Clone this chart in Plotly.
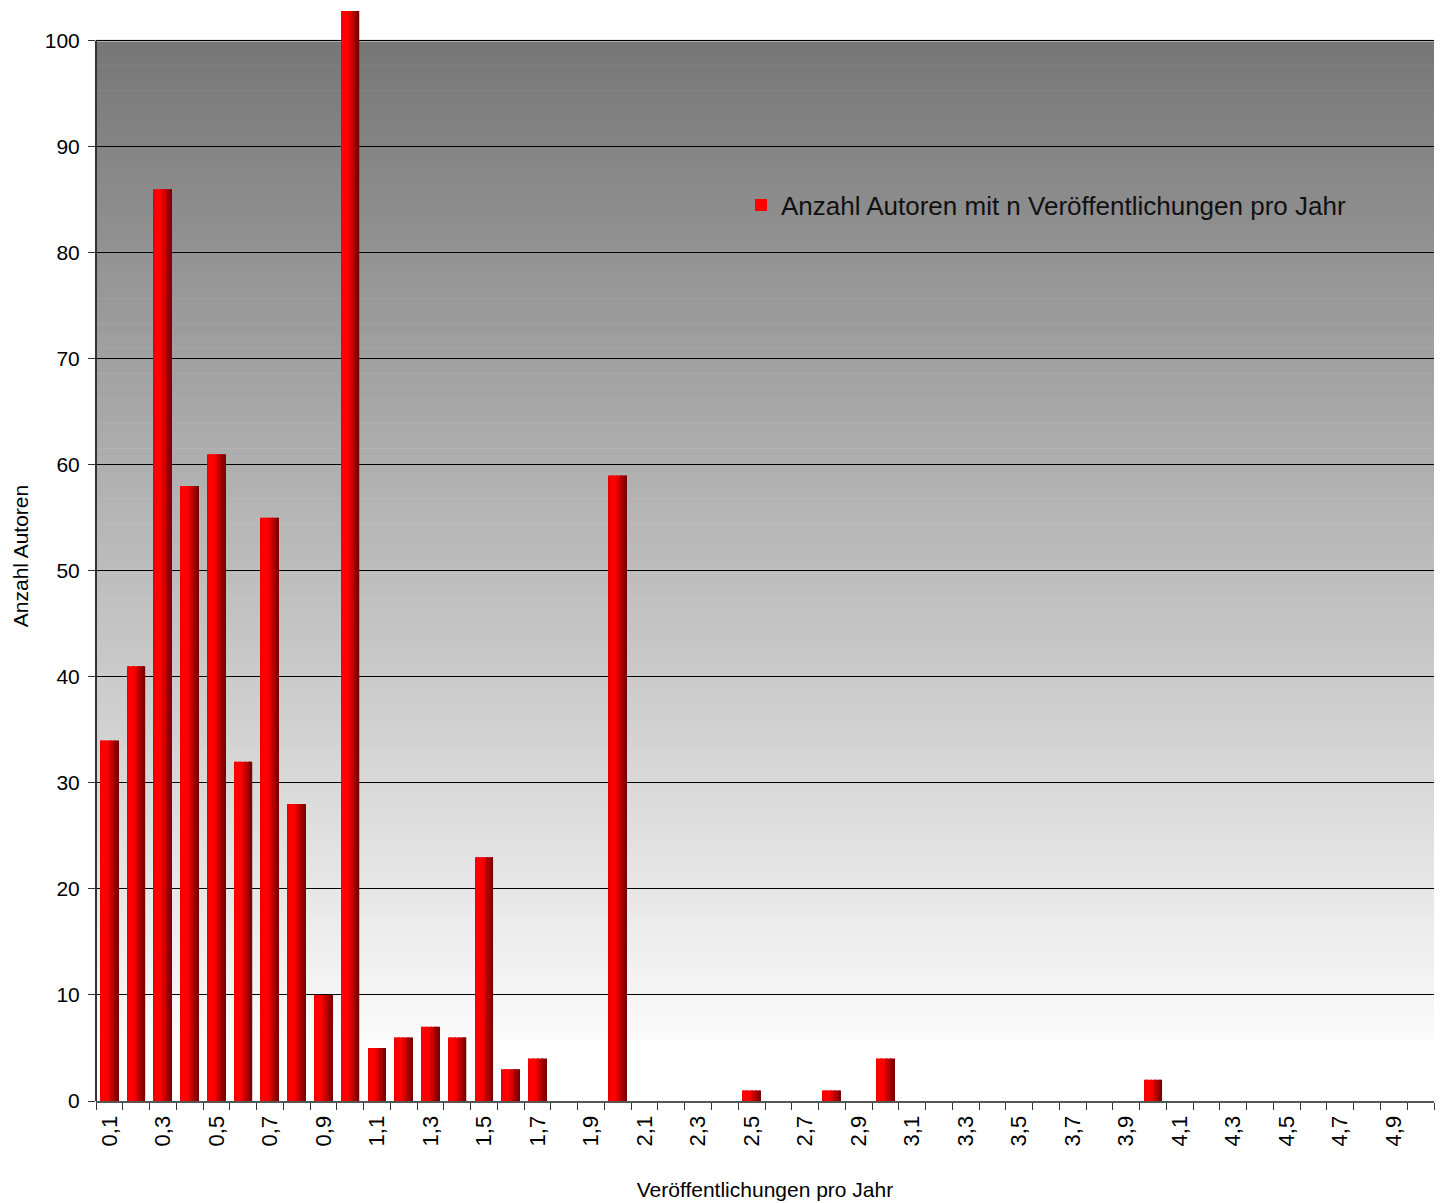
import plotly.graph_objects as go

# ---- data ----
categories = [f"{i/10:.1f}".replace(".", ",") for i in range(1, 51)]
values = [34, 41, 86, 58, 61, 32, 55, 28, 10, 103,
          5, 6, 7, 6, 23, 3, 4, 0, 0, 59,
          0, 0, 0, 0, 1, 0, 0, 1, 0, 4,
          0, 0, 0, 0, 0, 0, 0, 0, 0, 2,
          0, 0, 0, 0, 0, 0, 0, 0, 0, 0]
tick_text = [c if i % 2 == 0 else "" for i, c in enumerate(categories)]
series_name = "Anzahl Autoren mit n Veröffentlichungen pro Jahr"
y_ticks = list(range(0, 101, 10))

FONT = "Liberation Sans, Arial, sans-serif"

fig = go.Figure()

# bars drawn as vertical strips to imitate a horizontal red gradient
n_strips = 14
bar_width = 0.67
strip_w = bar_width / n_strips
def strip_color(t):
    # t: 0 (left) .. 1 (right)
    if t < 0.08:
        r = 235
    elif t < 0.4:
        r = 255
    else:
        r = int(255 - (t - 0.4) / 0.6 * (255 - 115))
    return f"rgb({r},0,0)"

for k in range(n_strips):
    t = (k + 0.5) / n_strips
    fig.add_trace(go.Bar(
        x=categories, y=values,
        width=strip_w + 0.003,
        offset=-bar_width / 2 + k * strip_w,
        marker=dict(color=strip_color(t), line=dict(width=0)),
        name=series_name,
        showlegend=(k == 4),
        hoverinfo="skip" if k != 4 else None,
    ))

# background gradient (grey at top -> white near bottom)
shapes = []
top_c, bot_c = 0x77, 0xfb
y_white = 5.75
steps = 120
for s in range(steps):
    y0 = y_white + (100 - y_white) * s / steps
    y1 = y_white + (100 - y_white) * (s + 1) / steps
    f = (s + 0.5) / steps
    c = int(bot_c + (top_c - bot_c) * f)
    shapes.append(dict(type="rect", xref="paper", yref="y", x0=0, x1=1,
                       y0=y0, y1=y1 + 0.05, fillcolor=f"rgb({c},{c},{c})",
                       line=dict(width=0), layer="below"))
# light top border of the plot area
shapes.append(dict(type="line", xref="paper", yref="y", x0=0, x1=1, y0=100, y1=100,
                   line=dict(color="#bdbdbd", width=2), layer="between"))
# y axis line only up to 100
shapes.append(dict(type="line", xref="paper", yref="y", x0=0, x1=0, y0=0, y1=100,
                   line=dict(color="#333333", width=2), layer="above"))

# page body adds an 8px margin, so the figure is sized/offset accordingly
fig.update_layout(
    width=1435, height=1195,
    margin=dict(l=88, r=9, t=3, b=102),
    paper_bgcolor="white", plot_bgcolor="white",
    barmode="overlay",
    font=dict(family=FONT, color="black", size=21),
    shapes=shapes,
    showlegend=True,
    legend=dict(x=0.482, y=0.822, xanchor="left", yanchor="middle",
                bgcolor="rgba(0,0,0,0)", font=dict(size=26, color="#111111")),
    xaxis=dict(
        type="category", categoryorder="array", categoryarray=categories,
        tickmode="array", tickvals=categories, ticktext=tick_text,
        tickson="boundaries", ticks="outside", ticklen=7, tickcolor="#333333",
        tickangle=-90, tickfont=dict(size=22), ticklabelstandoff=4,
        showline=True, linecolor="#555555", linewidth=2,
        showgrid=False, range=[-0.5, 49.5], automargin=False,
        title=dict(text="Veröffentlichungen pro Jahr", font=dict(size=21), standoff=37),
    ),
    yaxis=dict(
        range=[0, 102.8], tickmode="array", tickvals=y_ticks,
        ticks="outside", ticklen=7, tickcolor="#333333", tickfont=dict(size=21),
        ticklabelstandoff=4,
        showgrid=True, gridcolor="black", gridwidth=1,
        showline=False, zeroline=False, automargin=False,
        title=dict(text="Anzahl Autoren", font=dict(size=21), standoff=10),
    ),
)

fig.write_html("out.html")
